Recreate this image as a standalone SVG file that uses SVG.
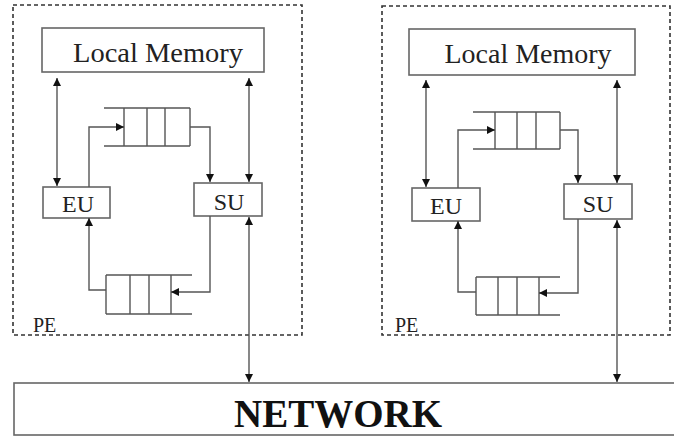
<svg xmlns="http://www.w3.org/2000/svg" width="674" height="437" viewBox="0 0 674 437">
<style>
.pe{fill:none;stroke:#333;stroke-width:1.6;stroke-dasharray:4 3}
.box{fill:#fff;stroke:#666;stroke-width:1.6}
.q{fill:none;stroke:#555;stroke-width:1.4}
.c{fill:none;stroke:#555;stroke-width:1.4}
.t{font-family:"Liberation Serif","Times New Roman",serif;fill:#222;text-anchor:middle}
.lm{font-size:27px}
.u{font-size:24px}
.pl{font-size:20px;text-anchor:start}
.net{font-size:39px;font-weight:bold;fill:#111}
</style>
<defs>
<marker id="ah" viewBox="0 0 10 10" refX="10" refY="5" markerUnits="userSpaceOnUse" markerWidth="9" markerHeight="8" orient="auto-start-reverse">
<path d="M0,0 L10,5 L0,10 z" fill="#111"/>
</marker>
</defs>
<rect x="0" y="0" width="674" height="437" fill="#fff"/>

<g id="pe1">
<rect class="pe" x="13" y="5" width="289" height="330"/>
<text class="t pl" x="33" y="332">PE</text>
</g>
<g id="pe2">
<rect class="pe" x="382" y="6" width="288" height="329"/>
<text class="t pl" x="395" y="332">PE</text>
</g>

<g id="lm1"><rect class="box" x="42" y="28" width="222" height="44"/><text class="t lm" x="158" y="62" textLength="170" lengthAdjust="spacingAndGlyphs">Local Memory</text></g>
<g id="eu1"><rect class="box" x="43" y="187" width="67" height="31"/><text class="t u" x="78" y="212">EU</text></g>
<g id="su1"><rect class="box" x="194" y="183" width="68" height="33"/><text class="t u" x="229" y="210">SU</text></g>
<g id="q1top"><path class="q" d="M104,108 H190 M104,146 H190 M124,108 V146 M147,108 V146 M165,108 V146 M190,108 V146"/></g>
<g id="q1bot"><path class="q" d="M106,275 H192 M106,314 H192 M106,275 V314 M130,275 V314 M149,275 V314 M171,275 V314"/></g>

<g id="lm2"><rect class="box" x="409" y="29" width="226" height="46"/><text class="t lm" x="528" y="63" textLength="167" lengthAdjust="spacingAndGlyphs">Local Memory</text></g>
<g id="eu2"><rect class="box" x="412" y="188" width="68" height="33"/><text class="t u" x="446" y="214">EU</text></g>
<g id="su2"><rect class="box" x="564" y="184" width="68" height="35"/><text class="t u" x="598" y="212">SU</text></g>
<g id="q2top"><path class="q" d="M473,112 H560 M473,149 H560 M495,112 V149 M517,112 V149 M536,112 V149 M560,112 V149"/></g>
<g id="q2bot"><path class="q" d="M476,277 H560 M476,315 H560 M476,277 V315 M498,277 V315 M517,277 V315 M539,277 V315"/></g>

<g id="network"><rect class="box" x="14" y="383" width="670" height="52"/><text class="t net" x="338" y="427">NETWORK</text></g>

<g id="connectors">
<path class="c" d="M57,78 V186" marker-start="url(#ah)" marker-end="url(#ah)"/>
<path class="c" d="M249,78 V182" marker-start="url(#ah)" marker-end="url(#ah)"/>
<path class="c" d="M89,187 V127 H124" marker-end="url(#ah)"/>
<path class="c" d="M190,127 H210 V182" marker-end="url(#ah)"/>
<path class="c" d="M210,216 V292 H171" marker-end="url(#ah)"/>
<path class="c" d="M106,290 H89 V218" marker-end="url(#ah)"/>
<path class="c" d="M249,217 V382" marker-start="url(#ah)" marker-end="url(#ah)"/>

<path class="c" d="M426,80 V187" marker-start="url(#ah)" marker-end="url(#ah)"/>
<path class="c" d="M617,80 V183" marker-start="url(#ah)" marker-end="url(#ah)"/>
<path class="c" d="M458,188 V130 H495" marker-end="url(#ah)"/>
<path class="c" d="M560,130 H578 V183" marker-end="url(#ah)"/>
<path class="c" d="M578,219 V293 H539" marker-end="url(#ah)"/>
<path class="c" d="M476,292 H458 V221" marker-end="url(#ah)"/>
<path class="c" d="M617,220 V382" marker-start="url(#ah)" marker-end="url(#ah)"/>
</g>
</svg>
